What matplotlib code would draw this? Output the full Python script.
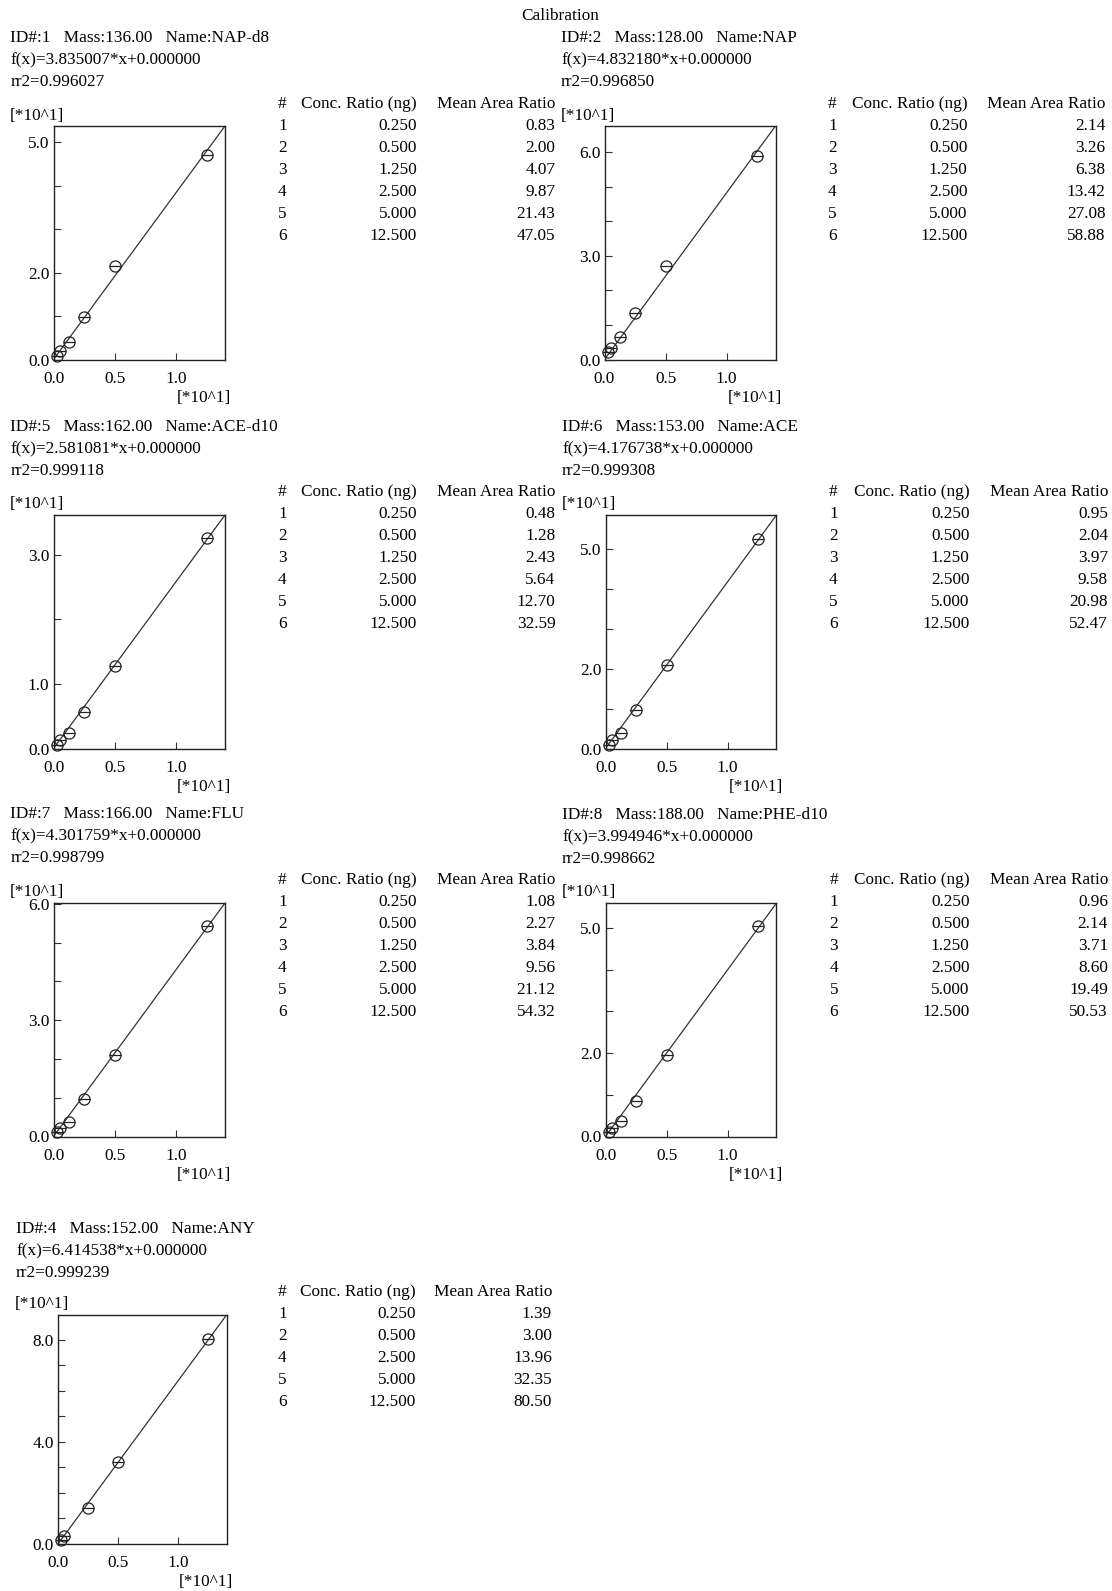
import matplotlib
matplotlib.use("Agg")
import matplotlib.pyplot as plt

plt.rcParams['font.family'] = ['Liberation Serif', 'DejaVu Serif']

W, H = 1112, 1591
DPI = 100

# ---------------- data ----------------
title = "Calibration"
scale_label = "[*10^1]"

ids = [1, 2, 5, 6, 7, 8, 4]
masses = ["136.00", "128.00", "162.00", "153.00", "166.00", "188.00", "152.00"]
names = ["NAP-d8", "NAP", "ACE-d10", "ACE", "FLU", "PHE-d10", "ANY"]
slopes = [3.835007, 4.832180, 2.581081, 4.176738, 4.301759, 3.994946, 6.414538]
rr2 = ["0.996027", "0.996850", "0.999118", "0.999308", "0.998799", "0.998662", "0.999239"]

level_1 = [1, 2, 3, 4, 5, 6]
conc_1 = [0.250, 0.500, 1.250, 2.500, 5.000, 12.500]
area_1 = [0.83, 2.00, 4.07, 9.87, 21.43, 47.05]

level_2 = [1, 2, 3, 4, 5, 6]
conc_2 = [0.250, 0.500, 1.250, 2.500, 5.000, 12.500]
area_2 = [2.14, 3.26, 6.38, 13.42, 27.08, 58.88]

level_5 = [1, 2, 3, 4, 5, 6]
conc_5 = [0.250, 0.500, 1.250, 2.500, 5.000, 12.500]
area_5 = [0.48, 1.28, 2.43, 5.64, 12.70, 32.59]

level_6 = [1, 2, 3, 4, 5, 6]
conc_6 = [0.250, 0.500, 1.250, 2.500, 5.000, 12.500]
area_6 = [0.95, 2.04, 3.97, 9.58, 20.98, 52.47]

level_7 = [1, 2, 3, 4, 5, 6]
conc_7 = [0.250, 0.500, 1.250, 2.500, 5.000, 12.500]
area_7 = [1.08, 2.27, 3.84, 9.56, 21.12, 54.32]

level_8 = [1, 2, 3, 4, 5, 6]
conc_8 = [0.250, 0.500, 1.250, 2.500, 5.000, 12.500]
area_8 = [0.96, 2.14, 3.71, 8.60, 19.49, 50.53]

level_4 = [1, 2, 4, 5, 6]
conc_4 = [0.250, 0.500, 2.500, 5.000, 12.500]
area_4 = [1.39, 3.00, 13.96, 32.35, 80.50]

levels = [level_1, level_2, level_5, level_6, level_7, level_8, level_4]
concs = [conc_1, conc_2, conc_5, conc_6, conc_7, conc_8, conc_4]
areas = [area_1, area_2, area_5, area_6, area_7, area_8, area_4]

x_max = 14.0          # concentration range shown (ng ratio)
x_tick_labels = [0.0, 0.5, 1.0]
y_labelled = [[0.0, 2.0, 5.0], [0.0, 3.0, 6.0], [0.0, 1.0, 3.0], [0.0, 2.0, 5.0],
              [0.0, 3.0, 6.0], [0.0, 2.0, 5.0], [0.0, 4.0, 8.0]]

# ---------------- layout (pixels) ----------------
# (left, top, right, bottom) of each plot box
boxes = [(53.5, 126, 225, 359.5), (604.5, 126, 775.5, 359.5),
         (53.5, 515, 225, 748.5), (605.5, 515, 776.5, 748.5),
         (53.5, 903, 225, 1136.5), (605.5, 903, 776.5, 1136.5),
         (58, 1315, 226.5, 1544)]
# header text origin (x, y of first line centre)
heads = [(10.5, 38), (561, 38), (10.5, 427), (562, 427), (10.5, 814), (562, 815), (16, 1229)]
# table: x of '#', right of conc col, right of area col, header y
tables = [(278, 417, 555.5, 104.5), (828, 967.5, 1105.5, 104.5),
          (278, 417, 555.5, 492.5), (829, 969.5, 1108, 492.5),
          (278, 417, 555.5, 880.5), (829.5, 969.5, 1108, 880.5),
          (278, 416, 552, 1292.5)]
ROW = 21.9
FS = 12.4

fig = plt.figure(figsize=(W / DPI, H / DPI), dpi=DPI)
fig.patch.set_facecolor('white')


def fx(x):
    return x / W


def fy(y):
    return 1 - y / H


fig.text(fx(560), fy(16), title, ha='center', va='center', fontsize=FS)

for i in range(len(ids)):
    l, t, r, b = boxes[i]
    ax = fig.add_axes([fx(l), fy(b), (r - l) / W, (b - t) / H])
    slope = slopes[i]
    xs = [c / 10 for c in concs[i]]
    ys = [a / 10 for a in areas[i]]
    xm = x_max / 10
    ym = slope * xm
    ax.plot([0, xm], [0, ym], color='#333333', lw=0.9)
    ax.plot(xs, ys, linestyle='none', marker='o', ms=8, mfc='none', mec='#222222',
            mew=0.9, clip_on=False)
    ax.plot(xs, ys, linestyle='none', marker='_', ms=8, mec='#222222', mew=0.9,
            clip_on=False)
    ax.set_xlim(0, xm)
    ax.set_ylim(0, ym)
    ax.set_xticks(x_tick_labels)
    ax.set_xticklabels([f"{v:.1f}" for v in x_tick_labels])
    yt = list(range(0, int(ym) + 1))
    ax.set_yticks(yt)
    ax.set_yticklabels([f"{v:.1f}" if float(v) in y_labelled[i] else "" for v in yt])
    ax.tick_params(direction='in', length=5, width=0.8, color='#333333',
                   labelsize=FS, pad=3)
    ax.tick_params(axis='x', pad=8)
    for sp in ax.spines.values():
        sp.set_linewidth(1.0)
        sp.set_color('#222222')

    # axis scale labels
    fig.text(fx(l - 43.5), fy(t - 10.5), scale_label, ha='left', va='center', fontsize=FS)
    fig.text(fx(r - 21), fy(b + 38.5), scale_label, ha='center', va='center', fontsize=FS)

    # header
    hx, hy = heads[i]
    fig.text(fx(hx), fy(hy), f"ID#:{ids[i]}   Mass:{masses[i]}   Name:{names[i]}",
             ha='left', va='center', fontsize=FS)
    fig.text(fx(hx), fy(hy + 22), f"f(x)={slope:.6f}*x+0.000000",
             ha='left', va='center', fontsize=FS)
    fig.text(fx(hx), fy(hy + 44), f"rr2={rr2[i]}", ha='left', va='center', fontsize=FS)

    # table
    cx, c2, c3, ty = tables[i]
    fig.text(fx(cx), fy(ty), "#", ha='left', va='center', fontsize=FS)
    fig.text(fx(c2), fy(ty), "Conc. Ratio (ng)", ha='right', va='center', fontsize=FS)
    fig.text(fx(c3), fy(ty), "Mean Area Ratio", ha='right', va='center', fontsize=FS)
    for k, (lv, c, a) in enumerate(zip(levels[i], concs[i], areas[i])):
        yy = ty + ROW * (k + 1)
        fig.text(fx(cx), fy(yy), f"{lv}", ha='left', va='center', fontsize=FS)
        fig.text(fx(c2), fy(yy), f"{c:.3f}", ha='right', va='center', fontsize=FS)
        fig.text(fx(c3), fy(yy), f"{a:.2f}", ha='right', va='center', fontsize=FS)

fig.savefig("out.png", dpi=DPI, facecolor='white')
